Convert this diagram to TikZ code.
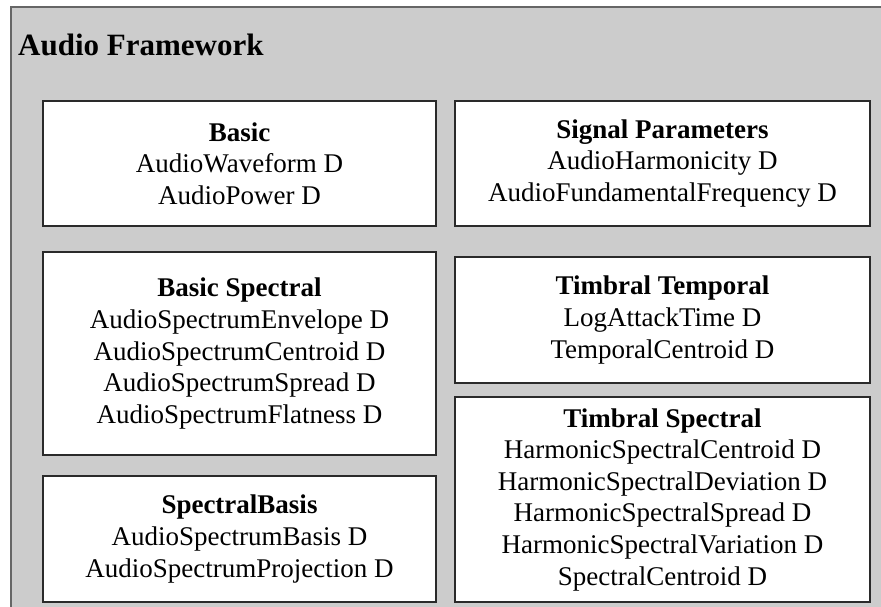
\documentclass[tikz,border=0pt]{standalone}
\usepackage{fontspec}
\setmainfont{Liberation Serif}
\begin{document}
\begin{tikzpicture}[x=1pt,y=-1pt,
  framebg/.style={fill=frameGrey,draw=frameLine,line width=2pt},
  groupbox/.style={draw=boxLine,fill=white,line width=1.3pt,align=center,inner sep=0pt,
    font=\fontsize{27}{31.6}\selectfont},
  titletext/.style={anchor=base west,inner sep=0pt,font=\fontsize{31}{36}\selectfont\bfseries}]
\definecolor{frameGrey}{HTML}{CCCCCC}
\definecolor{frameLine}{HTML}{666666}
\definecolor{boxLine}{HTML}{2A2A2A}
\useasboundingbox (0,0) rectangle (881,606);
\fill[white] (0,0) rectangle (881,606);
\draw[framebg] (11,7) rectangle (900,630);
\node[titletext] (title) at (18,55) {Audio Framework};
\newcommand{\grp}[6]{%
  \node[groupbox,minimum width={#4-#2},minimum height={#5-#3}] (#1) at ({(#2+#4)/2},{(#3+#5)/2}) {#6};}
\grp{basic}{43}{101}{436}{226}{\textbf{Basic}\\AudioWaveform D\\AudioPower D}
\grp{sigpar}{455}{101}{870}{226}{\textbf{Signal Parameters}\\AudioHarmonicity D\\AudioFundamentalFrequency D}
\grp{basspec}{43}{252}{436}{455}{\textbf{Basic Spectral}\\AudioSpectrumEnvelope D\\AudioSpectrumCentroid D\\AudioSpectrumSpread D\\AudioSpectrumFlatness D}
\grp{timtemp}{455}{257}{870}{383}{\textbf{Timbral Temporal}\\LogAttackTime D\\TemporalCentroid D}
\grp{timspec}{455}{397}{870}{602}{\textbf{Timbral Spectral}\\HarmonicSpectralCentroid D\\HarmonicSpectralDeviation D\\HarmonicSpectralSpread D\\HarmonicSpectralVariation D\\SpectralCentroid D}
\grp{specbas}{43}{476}{436}{602}{\textbf{SpectralBasis}\\AudioSpectrumBasis D\\AudioSpectrumProjection D}
\end{tikzpicture}
\end{document}
